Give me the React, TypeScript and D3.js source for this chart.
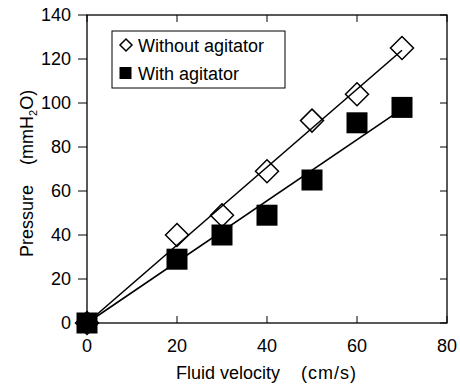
import React from 'react';
import * as d3 from 'd3';

// fluid velocity (cm/s)
const velocity = [0, 20, 30, 40, 50, 60, 70];
// pressure (mmH2O)
const withoutAgitator = [0, 40, 49, 69, 92, 104, 125];
const withAgitator = [0, 29, 40, 49, 65, 91, 98];

const xTicks = [0, 20, 40, 60, 80];
const yTicks = [0, 20, 40, 60, 80, 100, 120, 140];

const width = 460;
const height = 385;
const margin = { top: 15, right: 13, bottom: 62, left: 87 };
const font = '"Liberation Sans", Arial, sans-serif';

// least-squares slope of a line through the origin
const slopeThroughOrigin = (xs: number[], ys: number[]) =>
  d3.sum(xs, (x, i) => x * ys[i]) / d3.sum(xs, x => x * x);

const App = () => {
  const x = d3.scaleLinear().domain([0, 80]).range([margin.left, width - margin.right]);
  const y = d3.scaleLinear().domain([0, 140]).range([height - margin.bottom, margin.top]);

  const x0 = x.range()[0];
  const x1 = x.range()[1];
  const y0 = y.range()[0];
  const y1 = y.range()[1];

  const line = d3.line<[number, number]>()
    .x(d => x(d[0]))
    .y(d => y(d[1]));

  const fitLine = (ys: number[]) => {
    const k = slopeThroughOrigin(velocity, ys);
    const xMax = d3.max(velocity) as number;
    return line([[0, 0], [xMax, k * xMax]]) as string;
  };

  const diamond = (cx: number, cy: number, r: number) =>
    `M${cx},${cy - r}L${cx + r},${cy}L${cx},${cy + r}L${cx - r},${cy}Z`;

  return (
    <svg
      width={width}
      height={height}
      style={{ position: 'absolute', left: 0, top: 0, background: '#fff' }}
      fontFamily={font}
    >
      {/* frame */}
      <rect x={x0} y={y1} width={x1 - x0} height={y0 - y1} fill="none" stroke="#000" strokeWidth={1.3} />

      {/* x ticks: inward on bottom and top */}
      {xTicks.map(t => (
        <g key={'x' + t}>
          <line x1={x(t)} x2={x(t)} y1={y0} y2={y0 - 7} stroke="#000" strokeWidth={1} />
          <line x1={x(t)} x2={x(t)} y1={y1} y2={y1 + 7} stroke="#000" strokeWidth={1} />
          <text x={x(t)} y={y0 + 29} textAnchor="middle" fontSize={18} fill="#000">{t}</text>
        </g>
      ))}

      {/* y ticks: outward on left, inward on right */}
      {yTicks.map(t => (
        <g key={'y' + t}>
          <line x1={x0 - 9} x2={x0} y1={y(t)} y2={y(t)} stroke="#000" strokeWidth={1} />
          <line x1={x1 - 7} x2={x1} y1={y(t)} y2={y(t)} stroke="#000" strokeWidth={1} />
          <text x={x0 - 16} y={y(t)} dy="0.36em" textAnchor="end" fontSize={18} fill="#000">{t}</text>
        </g>
      ))}

      {/* fitted lines */}
      <path d={fitLine(withoutAgitator)} fill="none" stroke="#000" strokeWidth={1.6} />
      <path d={fitLine(withAgitator)} fill="none" stroke="#000" strokeWidth={1.6} />

      {/* without agitator: open diamonds */}
      {velocity.map((v, i) => (
        <path key={'d' + i} d={diamond(x(v), y(withoutAgitator[i]), 11.5)} fill="none" stroke="#000" strokeWidth={1.5} />
      ))}

      {/* with agitator: filled squares */}
      {velocity.map((v, i) => (
        <rect key={'s' + i} x={x(v) - 10.5} y={y(withAgitator[i]) - 10.5} width={21} height={21} fill="#000" />
      ))}

      {/* legend */}
      <g>
        <rect x={112} y={31} width={173} height={57} fill="#fff" stroke="#000" strokeWidth={1} />
        <path d={diamond(126, 45, 6)} fill="none" stroke="#000" strokeWidth={1.5} />
        <text x={138} y={51.5} fontSize={18} fill="#000">Without agitator</text>
        <rect x={119.5} y={67} width={12} height={12} fill="#000" />
        <text x={138} y={79.5} fontSize={18} fill="#000">With agitator</text>
      </g>

      {/* axis titles */}
      <text x={176} y={379} fontSize={18} fill="#000">
        <tspan>Fluid velocity</tspan>
        <tspan dx={21} letterSpacing={1}>(cm/s)</tspan>
      </text>
      <text transform="rotate(-90)" x={-257} y={33} fontSize={18} fill="#000">
        <tspan>Pressure</tspan>
        <tspan dx={20}>(mmH</tspan>
        <tspan fontSize={11} dy={4}>2</tspan>
        <tspan dy={-4}>O)</tspan>
      </text>
    </svg>
  );
};

export default App;
